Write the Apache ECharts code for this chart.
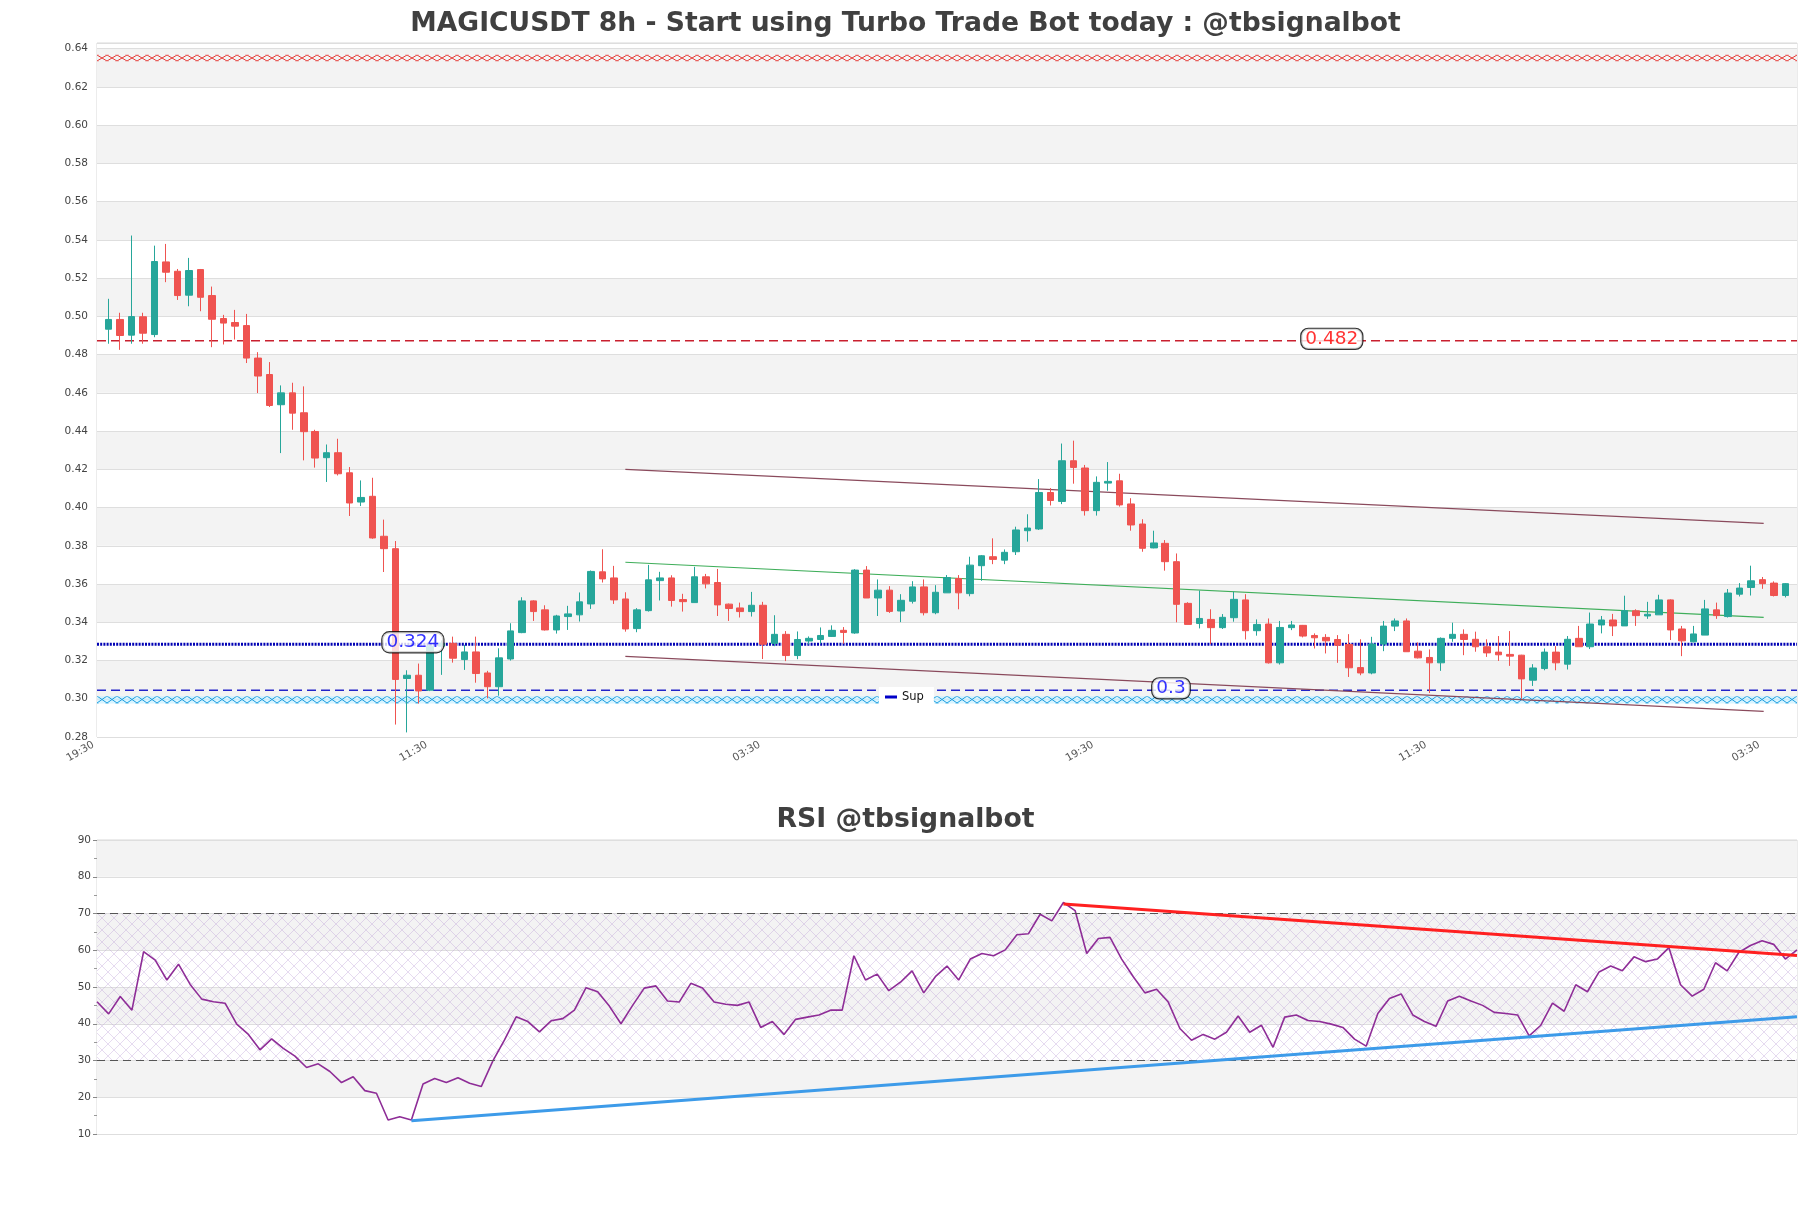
<!DOCTYPE html>
<html>
<head>
<meta charset="utf-8">
<script src="https://cdn.jsdelivr.net/npm/echarts@6/dist/echarts.min.js"></script>
<style>
html,body{margin:0;padding:0;background:#fff;}
#chart{width:1811px;height:1208px;}
</style>
</head>
<body>
<div id="chart"></div>
<script>
// ---------- DATA ----------
const mainTitle = 'MAGICUSDT 8h - Start using Turbo Trade Bot today : @tbsignalbot';
const rsiTitle = 'RSI @tbsignalbot';
const tickLabels = ['19:30', '11:30', '03:30', '19:30', '11:30', '03:30'];
const tickStep = 29;          // candles between time labels
const firstCandleSlot = 1;    // candle slot of first candle

const opens = [.4933,.4984,.4902,.4998,.4905,.5285,.5236,.5111,.5245,.5109,.4989,.4968,.4952,.4782,.4696,.4538,.4600,.4496,.4398,.4261,.4287,.4182,.4029,.4059,.3850,.3785,.3106,.3123,.3045,.3275,.3290,.3205,.3245,.3135,.3063,.3208,.3346,.3512,.3465,.3360,.3430,.3439,.3496,.3664,.3632,.3522,.3367,.3461,.3618,.3632,.3519,.3503,.3638,.3608,.3495,.3475,.3456,.3489,.3290,.3337,.3226,.3302,.3310,.3326,.3358,.3344,.3673,.3527,.3568,.3459,.3510,.3585,.3450,.3554,.3629,.3550,.3696,.3743,.3725,.3769,.3879,.3888,.4079,.4032,.4245,.4207,.3984,.4128,.4140,.4019,.3914,.3789,.3813,.3717,.3499,.3394,.3415,.3372,.3424,.3517,.3356,.3391,.3188,.3372,.3384,.3331,.3321,.3310,.3284,.3163,.3135,.3286,.3380,.3407,.3249,.3216,.3188,.3316,.3337,.3311,.3272,.3244,.3232,.3228,.3097,.3158,.3244,.3181,.3316,.3272,.3386,.3412,.3381,.3460,.3433,.3439,.3517,.3365,.3298,.3333,.3465,.3430,.3547,.3582,.3623,.3605,.3540];
const highs = [.5092,.5019,.5423,.5019,.5370,.5379,.5248,.5306,.5248,.5156,.5008,.5034,.5013,.4813,.4761,.4639,.4653,.4634,.4407,.4330,.4360,.4212,.4142,.4156,.3937,.3825,.3149,.3184,.3285,.3305,.3325,.3282,.3325,.3146,.3264,.3395,.3531,.3515,.3489,.3439,.3486,.3556,.3671,.3782,.3695,.3557,.3474,.3700,.3664,.3646,.3549,.3690,.3653,.3679,.3498,.3503,.3559,.3507,.3437,.3354,.3352,.3326,.3373,.3384,.3375,.3678,.3694,.3624,.3589,.3547,.3615,.3624,.3594,.3647,.3647,.3743,.3752,.3839,.3781,.3900,.3965,.4149,.4102,.4335,.4350,.4223,.4163,.4238,.4177,.4049,.3939,.3879,.3830,.3760,.3505,.3566,.3468,.3443,.3560,.3547,.3415,.3420,.3407,.3407,.3386,.3342,.3338,.3333,.3338,.3311,.3324,.3407,.3420,.3420,.3295,.3258,.3321,.3398,.3363,.3351,.3311,.3328,.3354,.3230,.3181,.3263,.3275,.3328,.3381,.3451,.3433,.3444,.3539,.3468,.3507,.3544,.3520,.3381,.3381,.3517,.3503,.3574,.3605,.3696,.3637,.3614,.3605];
const lows = [.4857,.4825,.4857,.4857,.4891,.5179,.5086,.5053,.5027,.4839,.4853,.4879,.4756,.4599,.4526,.4285,.4407,.4247,.4209,.4134,.4168,.3956,.4008,.3837,.3663,.2865,.2824,.2975,.3040,.3125,.3189,.3151,.3084,.3002,.3016,.3200,.3343,.3407,.3357,.3341,.3360,.3404,.3470,.3608,.3496,.3351,.3348,.3456,.3514,.3482,.3456,.3503,.3577,.3433,.3407,.3425,.3430,.3208,.3275,.3197,.3207,.3284,.3288,.3323,.3288,.3340,.3527,.3433,.3449,.3401,.3498,.3436,.3442,.3554,.3468,.3536,.3617,.3704,.3704,.3752,.3822,.3883,.4011,.4018,.4125,.3958,.3958,.4088,.4005,.3879,.3769,.3787,.3670,.3400,.3389,.3368,.3286,.3365,.3403,.3310,.3330,.3184,.3179,.3359,.3321,.3263,.3237,.3188,.3114,.3123,.3128,.3249,.3354,.3246,.3211,.3030,.3146,.3298,.3228,.3246,.3219,.3198,.3172,.3000,.3067,.3149,.3149,.3153,.3272,.3260,.3342,.3328,.3381,.3381,.3418,.3439,.3307,.3223,.3295,.3333,.3418,.3425,.3535,.3540,.3575,.3535,.3530];
const closes = [.4984,.4900,.4999,.4912,.5287,.5231,.5109,.5240,.5100,.4985,.4965,.4949,.4782,.4688,.4534,.4600,.4494,.4397,.4259,.4287,.4177,.4024,.4053,.3841,.3785,.3101,.3123,.3041,.3275,.3290,.3212,.3245,.3132,.3063,.3214,.3355,.3512,.3456,.3360,.3433,.3444,.3507,.3666,.3627,.3517,.3365,.3465,.3622,.3632,.3514,.3508,.3638,.3601,.3491,.3472,.3456,.3489,.3285,.3337,.3226,.3310,.3316,.3331,.3358,.3347,.3673,.3527,.3568,.3457,.3515,.3585,.3450,.3557,.3634,.3554,.3699,.3748,.3729,.3766,.3883,.3893,.4079,.4037,.4245,.4210,.3984,.4132,.4137,.4014,.3909,.3787,.3815,.3717,.3494,.3389,.3420,.3372,.3426,.3520,.3356,.3389,.3188,.3373,.3386,.3328,.3319,.3303,.3280,.3162,.3135,.3286,.3380,.3407,.3246,.3214,.3188,.3316,.3337,.3310,.3272,.3240,.3230,.3223,.3104,.3161,.3244,.3188,.3311,.3272,.3391,.3412,.3381,.3461,.3435,.3442,.3517,.3360,.3303,.3339,.3470,.3435,.3553,.3579,.3617,.3602,.3540,.3602];

const rsi = [46.0,42.7,47.4,43.7,59.6,57.3,51.9,56.2,50.7,46.7,46.0,45.6,39.9,37.1,32.9,35.9,33.3,31.2,28.1,29.1,27.0,24.0,25.6,21.8,21.1,13.8,14.7,13.8,23.6,25.1,24.0,25.3,23.8,22.9,29.9,35.6,41.9,40.6,37.8,40.8,41.4,43.7,49.8,48.7,44.8,
  40.0,45.0,49.7,50.3,46.2,45.9,51.0,49.7,45.9,45.3,45.0,45.9,39.0,40.6,37.1,41.2,41.8,42.4,43.7,43.7,58.5,51.9,53.5,49.0,51.3,54.4,48.4,52.8,55.7,51.9,57.6,59.1,58.5,60.1,64.2,64.5,69.8,68.0,73.0,70.8,59.1,63.2,63.5,57.6,52.8,48.4,49.4,45.9,38.7,35.5,37.1,35.8,37.7,42.1,37.7,39.6,33.6,41.8,42.4,40.9,40.6,39.9,39.0,35.8,33.9,42.8,46.9,48.1,42.4,40.6,39.3,46.2,47.5,46.2,45.0,43.1,42.8,42.4,36.7,39.6,45.6,43.4,50.6,48.7,54.1,55.7,54.4,58.2,56.9,57.6,60.7,50.6,47.5,49.4,56.6,54.4,59.4,61.3,62.6,61.6,57.6,60.1];

const resistLevel = 0.4872, resistText = '0.482', resistLabelSlot = 107.5;
const supLevel = 0.3285, supText = '0.324', supLabelSlot = 27.5;
const sup2Level = 0.3044, sup2Text = '0.3', sup2LabelSlot = 93.5;
const resZone = [0.6335, 0.6368];
const supZone = [0.2975, 0.3013];
const channelX = [46, 145.1];
const upperChannel = [0.4200, 0.3917];
const middleChannel = [0.3714, 0.3426];
const lowerChannel = [0.3222, 0.2934];
const rsiSupX = [27, 146], rsiSupY = [13.6, 41.9];
const rsiResX = [83, 146], rsiResY = [72.6, 58.6];
const rsiLevels = [70, 30];

// ---------- BUILD ----------
function hatch(w, h, color, bg, lw, ox, oy) {
  const c = document.createElement('canvas');
  c.width = w; c.height = h;
  const g = c.getContext('2d');
  if (bg) { g.fillStyle = bg; g.fillRect(0, 0, w, h); }
  g.strokeStyle = color; g.lineWidth = lw;
  g.beginPath();
  g.moveTo(0, 0); g.lineTo(w, h);
  g.moveTo(0, h); g.lineTo(w, 0);
  g.stroke();
  return { image: c, repeat: 'repeat', x: ox || 0, y: oy || 0 };
}

const candleData = opens.map((o, i) => [i + firstCandleSlot, o, closes[i], lows[i], highs[i]]);
const rsiData = rsi.map((v, i) => [i, v]);
const nSlots = opens.length + 1;
const hLine = v => [[0, v], [nSlots, v]];

const font = 'DejaVu Sans';
const labelBox = (color) => ({
  show: true, position: 'inside', offset: [0, -2],
  formatter: p => p.data[2], color: color, fontSize: 18.5, fontFamily: font,
  backgroundColor: '#fff', borderColor: '#000', borderWidth: 1.2, borderRadius: 7,
  padding: [1, 4, 0, 4]
});

function zoneArea(redPat, cyanPat) {
  return [
    [{ yAxis: resZone[0], itemStyle: { color: redPat } }, { yAxis: resZone[1] }],
    [{ yAxis: supZone[0], itemStyle: { color: cyanPat } }, { yAxis: supZone[1] }]
  ];
}

const chart = echarts.init(document.getElementById('chart'), null, { renderer: 'canvas' });
chart.setOption({
  animation: false,
  backgroundColor: '#fff',
  title: [
    { text: mainTitle, left: 'center', top: 6,
      textStyle: { fontFamily: font, fontWeight: 'bold', fontSize: 26.6, color: '#404040' } },
    { text: rsiTitle, left: 'center', top: 802,
      textStyle: { fontFamily: font, fontWeight: 'bold', fontSize: 26.7, color: '#404040' } }
  ],
  legend: {
    data: ['Sup'], left: 879, top: 687, backgroundColor: '#fff',
    padding: [4, 10, 4, 6], icon: 'rect', itemWidth: 12, itemHeight: 3, itemGap: 6,
    textStyle: { fontFamily: font, fontSize: 11.5, color: '#111' }
  },
  grid: [
    { left: 97, right: 14, top: 43, bottom: 471, show: true, borderColor: '#d8d8d8', borderWidth: 1 },
    { left: 97, right: 14, top: 840, bottom: 74, show: true, borderColor: '#d8d8d8', borderWidth: 1 }
  ],
  xAxis: [
    { type: 'value', gridIndex: 0, min: 0, max: nSlots, interval: tickStep,
      axisLine: { show: false }, axisTick: { show: false }, splitLine: { show: false },
      axisLabel: { rotate: 30, margin: 5, padding: [0, 4, 0, 0], fontFamily: font, fontSize: 10.5, color: '#555', showMaxLabel: false,
        formatter: v => (v % tickStep === 0 && tickLabels[v / tickStep]) ? tickLabels[v / tickStep] : '' } },
    { type: 'value', gridIndex: 1, min: 0, max: rsi.length - 1,
      axisLine: { show: false }, axisTick: { show: false }, splitLine: { show: false }, axisLabel: { show: false } }
  ],
  yAxis: [
    { type: 'value', gridIndex: 0, min: 0.28, max: 0.643, interval: 0.02,
      axisLine: { show: false }, axisTick: { show: false },
      axisLabel: { fontFamily: font, fontSize: 10.5, color: '#444', margin: 9, showMaxLabel: false,
        formatter: v => v.toFixed(2) },
      splitLine: { lineStyle: { color: '#dedede', width: 1 } },
      splitArea: { show: true, areaStyle: { color: ['#ffffff', '#f3f3f3'] } } },
    { type: 'value', gridIndex: 1, min: 10, max: 90, interval: 10,
      axisLine: { show: false },
      axisTick: { show: true, length: 4, lineStyle: { color: '#888' } },
      minorTick: { show: true, splitNumber: 2, length: 3, lineStyle: { color: '#999' } },
      axisLabel: { fontFamily: font, fontSize: 10.5, color: '#444', margin: 6 },
      splitLine: { lineStyle: { color: '#dedede', width: 1 } },
      splitArea: { show: true, areaStyle: { color: ['#ffffff', '#f3f3f3'] } } }
  ],
  series: [
    { type: 'line', name: 'zones', xAxisIndex: 0, yAxisIndex: 0, data: [], z: 1, silent: true,
      markArea: { silent: true, data: zoneArea(hatch(9, 6, '#e53935', null, 1), hatch(9, 7, '#1e9fe0', 'rgba(200,240,255,0.7)', 1)) } },
    { type: 'line', name: 'resist', xAxisIndex: 0, yAxisIndex: 0, z: 2, silent: true, symbol: 'none',
      data: hLine(resistLevel), lineStyle: { color: '#c9202f', type: [9, 5], width: 1.5 } },
    { type: 'line', name: 'sup2', xAxisIndex: 0, yAxisIndex: 0, z: 2, silent: true, symbol: 'none',
      data: hLine(sup2Level), lineStyle: { color: '#2323c8', type: [9, 5], width: 1.5 } },
    { type: 'line', name: 'Sup', xAxisIndex: 0, yAxisIndex: 0, z: 2, silent: true,
      data: hLine(supLevel), symbol: 'none', color: '#0000c8',
      lineStyle: { color: '#0000b4', width: 3, type: [2, 1.2] } },
    { type: 'line', name: 'chUpper', xAxisIndex: 0, yAxisIndex: 0, z: 3, symbol: 'none', silent: true,
      data: channelX.map((x, i) => [x, upperChannel[i]]), lineStyle: { color: '#8a4a5c', width: 1.2 } },
    { type: 'line', name: 'chMid', xAxisIndex: 0, yAxisIndex: 0, z: 3, symbol: 'none', silent: true,
      data: channelX.map((x, i) => [x, middleChannel[i]]), lineStyle: { color: '#3fae5a', width: 1.2 } },
    { type: 'line', name: 'chLower', xAxisIndex: 0, yAxisIndex: 0, z: 3, symbol: 'none', silent: true,
      data: channelX.map((x, i) => [x, lowerChannel[i]]), lineStyle: { color: '#8a4a5c', width: 1.2 } },
    { type: 'candlestick', name: 'MAGICUSDT', xAxisIndex: 0, yAxisIndex: 0, z: 4,
      data: candleData, encode: { x: 0, y: [1, 2, 3, 4] }, barWidth: 7,
      itemStyle: { color: '#26a69a', color0: '#ef5350', borderColor: '#26a69a', borderColor0: '#ef5350', borderWidth: 1 } },
    { type: 'scatter', name: 'lbl1', xAxisIndex: 0, yAxisIndex: 0, z: 6, symbolSize: 0, silent: true,
      data: [[resistLabelSlot, resistLevel, resistText]], label: labelBox('#ff0000') },
    { type: 'scatter', name: 'lbl2', xAxisIndex: 0, yAxisIndex: 0, z: 6, symbolSize: 0, silent: true,
      data: [[supLabelSlot, supLevel, supText]], label: labelBox('#0000ff') },
    { type: 'scatter', name: 'lbl3', xAxisIndex: 0, yAxisIndex: 0, z: 6, symbolSize: 0, silent: true,
      data: [[sup2LabelSlot, sup2Level, sup2Text]], label: labelBox('#0000ff') },

    // RSI panel
    { type: 'line', name: 'RSI', xAxisIndex: 1, yAxisIndex: 1, z: 4, symbol: 'none',
      data: rsiData, lineStyle: { color: '#8e2d97', width: 1.6 },
      markArea: { silent: true, itemStyle: { color: hatch(12, 12, 'rgba(190,160,215,0.38)', null, 1) },
        data: [[{ yAxis: rsiLevels[1] }, { yAxis: rsiLevels[0] }]] },
      markLine: { silent: true, symbol: 'none', label: { show: false },
        lineStyle: { color: '#555', type: [8, 5], width: 1.2 },
        data: rsiLevels.map(v => ({ yAxis: v })) } },
    { type: 'line', name: 'rsiSup', xAxisIndex: 1, yAxisIndex: 1, z: 5, symbol: 'none', silent: true,
      data: rsiSupX.map((x, i) => [x, rsiSupY[i]]), lineStyle: { color: '#3d9be9', width: 3 } },
    { type: 'line', name: 'rsiRes', xAxisIndex: 1, yAxisIndex: 1, z: 5, symbol: 'none', silent: true,
      data: rsiResX.map((x, i) => [x, rsiResY[i]]), lineStyle: { color: '#ff2020', width: 3 } }
  ]
});

// align hatch tiles to the zone bands using the axis scale
const rTop = chart.convertToPixel({ yAxisIndex: 0 }, resZone[1]);
const rBot = chart.convertToPixel({ yAxisIndex: 0 }, resZone[0]);
const cTop = chart.convertToPixel({ yAxisIndex: 0 }, supZone[1]);
const cBot = chart.convertToPixel({ yAxisIndex: 0 }, supZone[0]);
chart.setOption({
  series: [{ name: 'zones',
    markArea: { silent: true, data: zoneArea(
      hatch(10, Math.max(4, Math.round(rBot - rTop)), '#e53935', null, 1, 97, Math.round(rTop)),
      hatch(10, Math.max(4, Math.round(cBot - cTop)), '#1e9fe0', 'rgba(200,240,255,0.7)', 1, 97, Math.round(cTop))
    ) } }]
});
</script>
</body>
</html>
